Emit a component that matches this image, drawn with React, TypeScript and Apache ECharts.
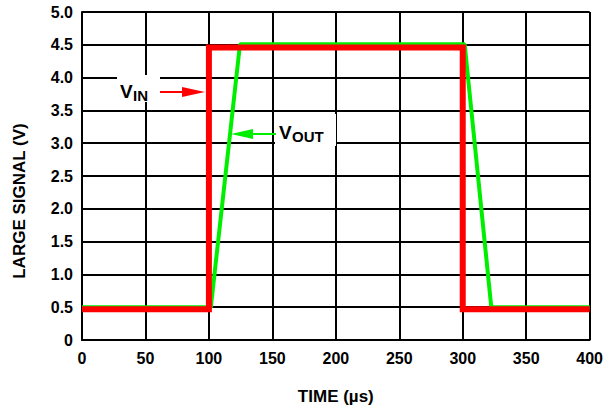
import React, { useEffect, useRef } from "react";
import * as echarts from "echarts";

const timeTicks = [0, 50, 100, 150, 200, 250, 300, 350, 400];
const vinTime = [0, 100, 100, 300, 300, 400];
const vinValue = [0.47, 0.47, 4.46, 4.46, 0.47, 0.47];
const voutTime = [0, 101.5, 124.5, 301.5, 322.5, 400];
const voutValue = [0.5, 0.5, 4.51, 4.51, 0.5, 0.5];

const FONT = "'Liberation Sans', Arial, sans-serif";

export default function App() {
  const ref = useRef<HTMLDivElement>(null);
  useEffect(() => {
    if (!ref.current) return;
    const chart = echarts.init(ref.current, null, { renderer: "svg" });
    const vin = vinTime.map((t, i) => [t, vinValue[i]]);
    const vout = voutTime.map((t, i) => [t, voutValue[i]]);
    const txt = (text: string, x: number, y: number, size: number) => ({
      type: "text",
      z: 101,
      x,
      y,
      style: { text, font: `bold ${size}px ${FONT}`, fill: "#000", verticalAlign: "middle", align: "left" },
    });
    chart.setOption({
      animation: false,
      backgroundColor: "#ffffff",
      grid: { left: 82, right: 16, top: 12, bottom: 68, containLabel: false },
      xAxis: {
        type: "value",
        min: 0,
        max: 400,
        interval: 50,
        name: "TIME (µs)",
        nameLocation: "middle",
        nameGap: 48,
        nameTextStyle: { fontFamily: FONT, fontWeight: "bold", fontSize: 17, color: "#000" },
        axisLine: { show: true, lineStyle: { color: "#000", width: 2 } },
        axisTick: { show: false },
        axisLabel: {
          margin: 10,
          fontFamily: FONT,
          fontWeight: "bold",
          fontSize: 16,
          color: "#000",
          formatter: (v: number) => (timeTicks.includes(v) ? String(v) : ""),
        },
        splitLine: { show: true, lineStyle: { color: "#000", width: 2 } },
      },
      yAxis: {
        type: "value",
        min: 0,
        max: 5,
        interval: 0.5,
        name: "LARGE SIGNAL (V)",
        nameLocation: "middle",
        nameGap: 54,
        nameTextStyle: {
          fontFamily: FONT,
          fontWeight: "bold",
          fontSize: 17,
          color: "#000",
          padding: [0, 50, 0, 0],
        },
        axisLine: { show: true, lineStyle: { color: "#000", width: 2 } },
        axisTick: { show: false },
        axisLabel: {
          margin: 9,
          fontFamily: FONT,
          fontWeight: "bold",
          fontSize: 16,
          color: "#000",
          formatter: (v: number) => (v === 0 ? "0" : v.toFixed(1)),
        },
        splitLine: { show: true, lineStyle: { color: "#000", width: 2 } },
      },
      series: [
        {
          name: "VOUT",
          type: "line",
          data: vout,
          symbol: "none",
          lineStyle: { color: "#00ee00", width: 4 },
          z: 3,
        },
        {
          name: "VIN",
          type: "line",
          data: vin,
          symbol: "none",
          lineStyle: { color: "#ff0000", width: 6, join: "miter", cap: "butt" },
          z: 4,
        },
      ],
      graphic: [
        { type: "rect", z: 100, shape: { x: 117, y: 75, width: 43, height: 27 }, style: { fill: "#fff" } },
        txt("V", 120, 91, 19),
        txt("IN", 133, 95, 15),
        { type: "line", z: 101, shape: { x1: 160, y1: 92, x2: 185, y2: 92 }, style: { stroke: "#ff0000", lineWidth: 2 } },
        { type: "polygon", z: 101, shape: { points: [[182, 87], [205, 92], [182, 97]] }, style: { fill: "#ff0000" } },
        { type: "rect", z: 100, shape: { x: 275, y: 114, width: 61, height: 32 }, style: { fill: "#fff" } },
        txt("V", 279, 132, 19),
        txt("OUT", 292, 136, 15),
        { type: "line", z: 101, shape: { x1: 250, y1: 134, x2: 276, y2: 134 }, style: { stroke: "#00ee00", lineWidth: 2 } },
        { type: "polygon", z: 101, shape: { points: [[253, 129], [231, 134], [253, 139]] }, style: { fill: "#00ee00" } },
      ],
    });
    return () => chart.dispose();
  }, []);
  return <div ref={ref} style={{ width: 606, height: 410, position: "absolute", left: 0, top: 0 }} />;
}
